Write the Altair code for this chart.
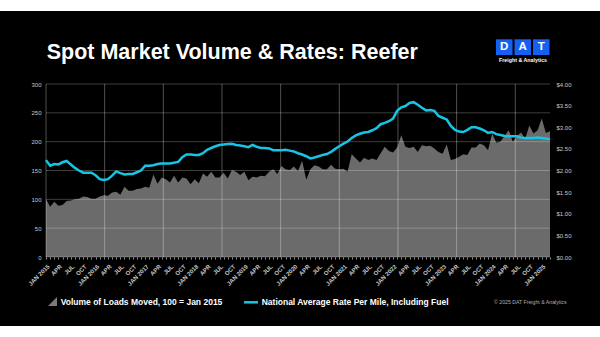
import altair as alt
import pandas as pd

# ---------------- data ----------------
start_year = 2015
quarter_names = ["JAN", "APR", "JUL", "OCT"]

volume = [
    100, 87, 96, 89, 90, 97, 98, 100, 101, 105, 104, 101,
    101, 105, 107, 106, 112, 113, 108, 122, 115, 115, 118, 119,
    122, 120, 143, 127, 138, 135, 129, 141, 129, 138, 136, 126,
    135, 128, 145, 139, 148, 138, 138, 146, 136, 151, 148, 142,
    148, 133, 139, 138, 141, 140, 148, 152, 144, 158, 152, 151,
    157, 149, 167, 134, 152, 159, 157, 152, 152, 160, 153, 152,
    153, 148, 178, 171, 164, 172, 168, 171, 168, 180, 191, 184,
    181, 190, 211, 191, 189, 191, 182, 194, 192, 193, 188, 182,
    179, 195, 168, 170, 174, 178, 177, 190, 190, 197, 194, 185,
    214, 198, 200, 210, 220, 200, 210, 216, 205, 228, 214, 220,
    240, 215, 218,
]

rate = [
    2.24, 2.11, 2.15, 2.14, 2.19, 2.22, 2.14, 2.06, 2.00, 1.95, 1.95, 1.95,
    1.89, 1.80, 1.78, 1.80, 1.88, 1.98, 1.94, 1.91, 1.92, 1.92, 1.96, 2.00,
    2.11, 2.11, 2.12, 2.15, 2.16, 2.16, 2.16, 2.18, 2.20, 2.31, 2.37, 2.37,
    2.36, 2.36, 2.40, 2.48, 2.52, 2.56, 2.59, 2.60, 2.61, 2.62, 2.59, 2.58,
    2.56, 2.54, 2.59, 2.55, 2.52, 2.52, 2.51, 2.47, 2.47, 2.47, 2.48, 2.46,
    2.44, 2.40, 2.37, 2.33, 2.28, 2.30, 2.33, 2.36, 2.38, 2.43, 2.50, 2.56,
    2.62, 2.67, 2.75, 2.81, 2.85, 2.88, 2.89, 2.93, 2.98, 3.07, 3.10, 3.14,
    3.20, 3.38, 3.46, 3.49, 3.56, 3.58, 3.52, 3.45, 3.39, 3.40, 3.38, 3.26,
    3.22, 3.18, 3.03, 2.94, 2.90, 2.89, 2.94, 3.00, 3.00, 2.97, 2.93, 2.87,
    2.89, 2.84, 2.82, 2.80, 2.79, 2.79, 2.79, 2.76, 2.75, 2.75, 2.75, 2.76,
    2.75, 2.74, 2.72,
]

months = list(range(len(volume)))
left_ticks = [0, 50, 100, 150, 200, 250, 300]
right_ticks = [0, 0.5, 1.0, 1.5, 2.0, 2.5, 3.0, 3.5, 4.0]
grid_months = [0, 14.2, 28.4, 42.6, 56.8, 71.0, 85.2, 99.4, 113.6]

title_text = "Spot Market Volume & Rates: Reefer"
legend_area = "Volume of Loads Moved, 100 = Jan 2015"
legend_line = "National Average Rate Per Mile, Including Fuel"
copyright_text = "\u00a9 2025 DAT Freight & Analytics"
logo_letters = ["D", "A", "T"]
logo_sub = "Freight & Analytics"

df = pd.DataFrame({"m": months, "volume": volume, "rate": rate})
hgrid_df = pd.DataFrame({"v": left_ticks})
vgrid_df = pd.DataFrame({"g": grid_months})
one = pd.DataFrame({"a": [0]})

FONT = "Liberation Sans"
W, H = 504, 173
AREA_C = "#6b6b6b"
LINE_C = "#17c4e4"
LABEL_C = "#c8c8c8"

label_expr = (
    f"datum.value % 12 == 0 ? '{quarter_names[0]} ' + ({start_year} + floor(datum.value / 12)) : "
    f"datum.value % 12 == 3 ? '{quarter_names[1]}' : "
    f"datum.value % 12 == 6 ? '{quarter_names[2]}' : "
    f"datum.value % 12 == 9 ? '{quarter_names[3]}' : ''"
)

xscale = alt.Scale(domain=[0, len(volume) - 1], nice=False, zero=False)
xaxis = alt.Axis(
    values=months, labelExpr=label_expr, labelAngle=-45, labelFont=FONT,
    labelFontSize=6, labelFontWeight="bold", labelColor=LABEL_C,
    labelOverlap=False, labelBound=False, labelPadding=4, tickSize=2,
    tickColor="#bdbdbd", tickWidth=0.8, domain=False, grid=False, title=None,
    zindex=1,
)
yscale_l = alt.Scale(domain=[0, 300], nice=False)
yaxis_l = alt.Axis(
    values=left_ticks, labelFont=FONT, labelFontSize=6, labelColor=LABEL_C,
    labelPadding=5, labelOverlap=False, labelFlush=False, domain=False,
    ticks=False, grid=False, title=None, zindex=1,
)

# background panel
bg = alt.Chart(one).mark_rect(color="black").encode(
    x=alt.value(-46), x2=alt.value(554), y=alt.value(-73), y2=alt.value(242)
)

area = alt.Chart(df).mark_area(color=AREA_C, opacity=1).encode(
    x=alt.X("m:Q", scale=xscale, axis=xaxis),
    y=alt.Y("volume:Q", scale=yscale_l, axis=yaxis_l),
)

hgrid = alt.Chart(hgrid_df).mark_rule(color="white", opacity=0.3, strokeWidth=0.8).encode(
    y=alt.Y("v:Q", scale=yscale_l, axis=yaxis_l)
)
vgrid = alt.Chart(vgrid_df).mark_rule(color="white", opacity=0.4, strokeWidth=0.8).encode(
    x=alt.X("g:Q", scale=xscale, axis=xaxis)
)

left = alt.layer(area, hgrid, vgrid)

line = alt.Chart(df).mark_line(color=LINE_C, strokeWidth=2.5).encode(
    x=alt.X("m:Q", scale=xscale, axis=xaxis),
    y=alt.Y("rate:Q", scale=alt.Scale(domain=[0, 4], nice=False), axis=alt.Axis(
        orient="right", values=right_ticks, format="$.2f", labelFont=FONT,
        labelFontSize=6, labelColor=LABEL_C, labelPadding=6, labelOverlap=False,
        labelFlush=False, domain=False, ticks=False, grid=False, title=None, zindex=1)),
)


def txt(text, x, y, size, color="white", weight="bold", align="left", baseline="alphabetic"):
    return alt.Chart(one).mark_text(
        text=text, font=FONT, fontSize=size, fontWeight=weight, color=color,
        align=align, baseline=baseline,
    ).encode(x=alt.value(x), y=alt.value(y))


title = txt(title_text, 0.7, -24.7, 21.5)

logo_layers = []
for i, letter in enumerate(logo_letters):
    x0 = 450 + i * 18.5
    logo_layers.append(alt.Chart(one).mark_rect(color="#1560f0").encode(
        x=alt.value(x0), x2=alt.value(x0 + 16.5), y=alt.value(-44.7), y2=alt.value(-29)))
    logo_layers.append(txt(letter, x0 + 8.25, -36.8, 11.5, align="center", baseline="middle"))
logo_layers.append(txt(logo_sub, 477, -24.5, 5.3, align="center", baseline="middle"))

leg_icon = alt.Chart(one).mark_point(
    shape="M -1 1 L 1 -1 L 1 1 Z", filled=True, color="#7a7a7a", opacity=1, size=81, strokeWidth=0
).encode(x=alt.value(6.5), y=alt.value(217.5))
leg_txt1 = txt(legend_area, 14.7, 221.3, 8.5)
leg_line = alt.Chart(one).mark_rule(color=LINE_C, strokeWidth=2.5).encode(
    x=alt.value(198), x2=alt.value(212), y=alt.value(218.3))
leg_txt2 = txt(legend_line, 215.7, 221.3, 8.5)
copy_txt = txt(copyright_text, 448, 220, 5.2, color="#b0b0b0", weight="normal")

chart = alt.layer(
    bg, left, line, title, *logo_layers, leg_icon, leg_txt1, leg_line, leg_txt2, copy_txt
).resolve_scale(y="independent").properties(
    width=W, height=H,
    padding={"left": 46, "top": 84, "right": 50, "bottom": 80},
    autosize=alt.AutoSizeParams(type="none"),
    background="white",
).configure_view(stroke=None)

chart.save("out.html", embed_options={"renderer": "svg", "actions": False})
